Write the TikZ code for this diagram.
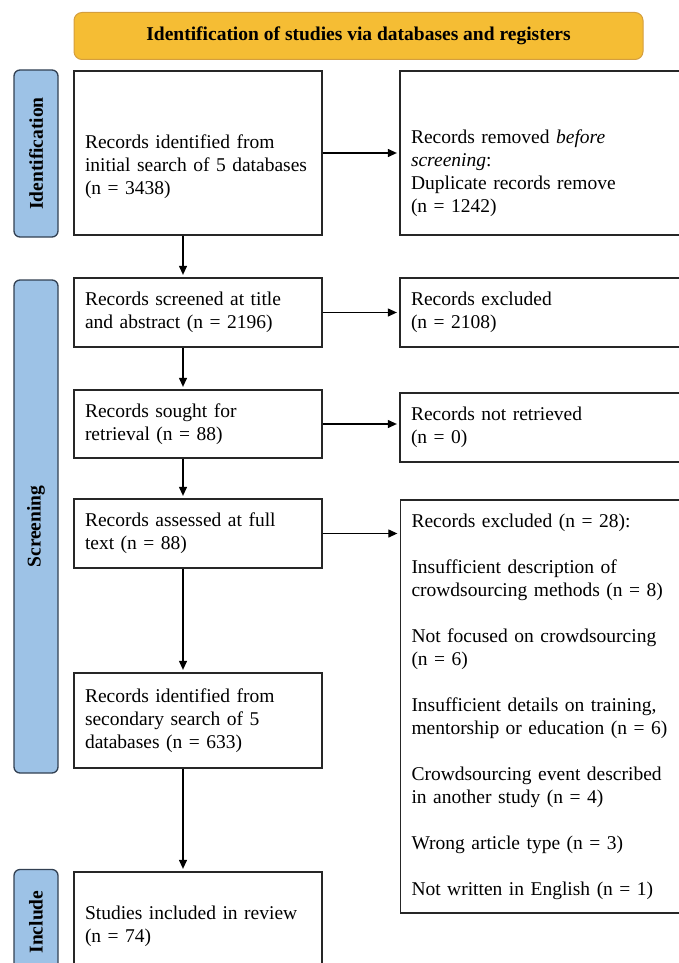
\documentclass[tikz,border=0pt]{standalone}
\usepackage{fontspec}
\setmainfont{Liberation Serif}
\usetikzlibrary{arrows.meta, calc}

\definecolor{phaseblue}{RGB}{157,194,230}
\definecolor{phaseedge}{RGB}{50,64,82}
\definecolor{bannergold}{RGB}{245,189,52}
\definecolor{banneredge}{RGB}{212,158,62}

\begin{document}
\begin{tikzpicture}[x=1pt, y=-1pt, font=\fontsize{19.5}{23}\selectfont,
    box/.style={draw=black!85, line width=1.3pt, inner xsep=11pt, inner ysep=0pt, align=left},
    lbox/.style={box, text width=226pt},
    rbox/.style={box, text width=268pt},
    phase/.style={draw=phaseedge, fill=phaseblue, line width=1.3pt, rounded corners=6pt, rotate=90, minimum height=44pt, inner sep=0pt, font=\fontsize{19.5}{23}\selectfont\bfseries},
    flow/.style={-{Triangle[length=9pt,width=8pt]}, line width=1.2pt, shorten >=2.5pt}]
    \useasboundingbox (0,0) rectangle (678,963);

    \coordinate (T) at (358.5,36);
    \coordinate (P1) at (36,153.5);
    \coordinate (P2) at (36,526.5);
    \coordinate (P3) at (36,922);

    \coordinate (I) at (198,153);
    \coordinate (II) at (198,312.5);
    \coordinate (III) at (198,424);
    \coordinate (IV) at (198,533.5);
    \coordinate (V) at (198,720.5);
    \coordinate (VI) at (198,926);

    \coordinate (A) at (545,153);
    \coordinate (B) at (545,312.5);
    \coordinate (C) at (545,427.5);
    \coordinate (D) at (545.5,706.5);

    \node[draw=banneredge, fill=bannergold, line width=1pt, rounded corners=8pt, minimum width=569pt, minimum height=47pt, font=\fontsize{19.5}{23}\selectfont\bfseries] (title) at (T) {Identification of studies via databases and registers};

    \node[phase, minimum width=167pt] (idn) at (P1) {Identification};
    \node[phase, minimum width=493pt] (scr) at (P2) {Screening};
    \node[phase, minimum width=105pt] (inc) at (P3) {Include};

    \node[lbox, minimum height=164pt] (srch1) at (I) {\rule{0pt}{41.5pt}Records identified from\\initial search of 5 databases\\(n = 3438)};
    \node[lbox, minimum height=69pt] (scrn) at (II) {Records screened at title\\and abstract (n = 2196)};
    \node[lbox, minimum height=68pt] (sght) at (III) {Records sought for\\retrieval (n = 88)};
    \node[lbox, minimum height=69pt] (asst) at (IV) {Records assessed at full\\text (n = 88)};
    \node[lbox, minimum height=95pt] (srch2) at (V) {Records identified from\\secondary search of 5\\databases (n = 633)};
    \node[lbox, minimum height=108pt] (incl) at (VI) {Studies included in review\\(n = 74)};

    \node[rbox, minimum height=164pt] (dup) at (A) {\rule{0pt}{53.5pt}Records removed \textit{before}\\\textit{screening}:\\Duplicate records remove\\(n = 1242)};
    \node[rbox, minimum height=69pt] (exc1) at (B) {Records excluded\\(n = 2108)};
    \node[rbox, minimum height=69pt] (nret) at (C) {Records not retrieved\\(n = 0)};
    \node[rbox, minimum height=413pt] (exc2) at (D) {Records excluded (n = 28):\\[23pt]Insufficient description of\\crowdsourcing methods (n = 8)\\[23pt]Not focused on crowdsourcing\\(n = 6)\\[23pt]Insufficient details on training,\\mentorship or education (n = 6)\\[23pt]Crowdsourcing event described\\in another study (n = 4)\\[23pt]Wrong article type (n = 3)\\[23pt]Not written in English (n = 1)};

    \draw[flow] (srch1.east) -- (dup.west);
    \draw[flow] (scrn.east) -- (exc1.west);
    \draw[flow] (sght.east) -- (sght.east -| nret.west);
    \draw[flow] (asst.east) -- (asst.east -| exc2.west);

    \draw[flow] ([xshift=-15pt]srch1.south) -- ([xshift=-15pt]scrn.north);
    \draw[flow] ([xshift=-15pt]scrn.south) -- ([xshift=-15pt]sght.north);
    \draw[flow] ([xshift=-15pt]sght.south) -- ([xshift=-15pt]asst.north);
    \draw[flow] ([xshift=-15pt]asst.south) -- ([xshift=-15pt]srch2.north);
    \draw[flow] ([xshift=-15pt]srch2.south) -- ([xshift=-15pt]incl.north);
  \end{tikzpicture}
\end{document}
